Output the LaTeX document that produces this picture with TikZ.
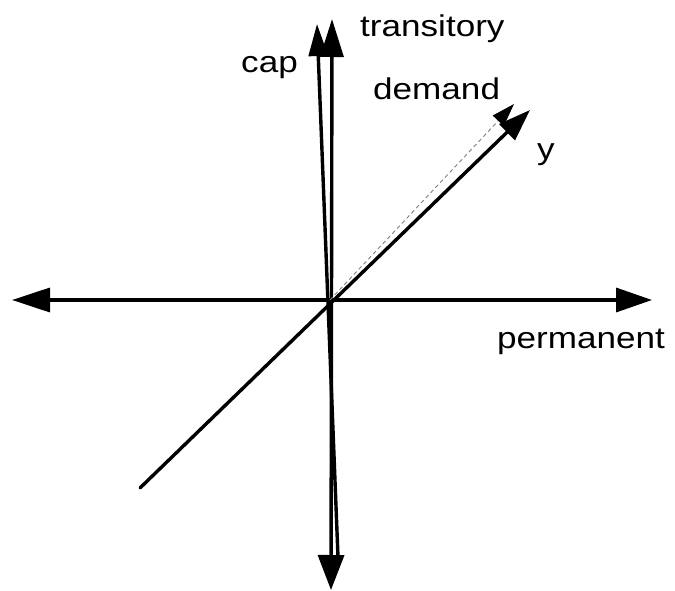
\documentclass[tikz,border=0pt]{standalone}
\usepackage{fontspec}
\setmainfont{Liberation Sans}
\usetikzlibrary{arrows.meta}
\begin{document}
\begin{tikzpicture}[x=1pt,y=-1pt,
  axis/.style={line width=3.4pt},
  lbl/.style={inner sep=0pt,anchor=base west,font=\fontsize{30}{34}\selectfont}]
\useasboundingbox (0,0) rectangle (675,591);
% coordinates
\coordinate (O) at (330,300);
\coordinate (L) at (12,300);
\coordinate (R) at (652,300);
\coordinate (Ttop) at (332,19);
\coordinate (Tbot) at (331,590);
\coordinate (Ctop) at (317,24);
\coordinate (Cbot) at (338,557);
\coordinate (Yend) at (530,110);
\coordinate (Ystart) at (140,488);
\coordinate (Dend) at (514,104);
% horizontal axis
\draw[axis,{Triangle[length=38pt,width=24pt]}-{Triangle[length=36pt,width=24pt]}] (L) -- (R);
% transitory (vertical)
\draw[axis,{Triangle[length=35pt,width=26pt]}-{Triangle[length=38pt,width=23pt]}] (Tbot) -- (Ttop);
% cap
\draw[axis,-{Triangle[length=32pt,width=19pt]}] (Cbot) -- (Ctop);
% y
\draw[axis,line cap=round,-{Triangle[length=32pt,width=22pt]}] (Ystart) -- (Yend);
% demand
\draw[gray,line width=0.9pt,dash pattern=on 4pt off 3pt,-{Triangle[length=23pt,width=15pt,color=black]}] (O) -- (Dend);
% labels
\node[lbl] (tlab) at (360,37) {\scalebox{1.17}[1]{transitory}};
\node[lbl] (clab) at (241,73) {\scalebox{1.17}[1]{cap}};
\node[lbl] (dlab) at (373,100) {\scalebox{1.17}[1]{demand}};
\node[lbl] (ylab) at (537,160) {\scalebox{1.17}[1]{y}};
\node[lbl] (plab) at (497,348) {\scalebox{1.17}[1]{permanent}};
\end{tikzpicture}
\end{document}
